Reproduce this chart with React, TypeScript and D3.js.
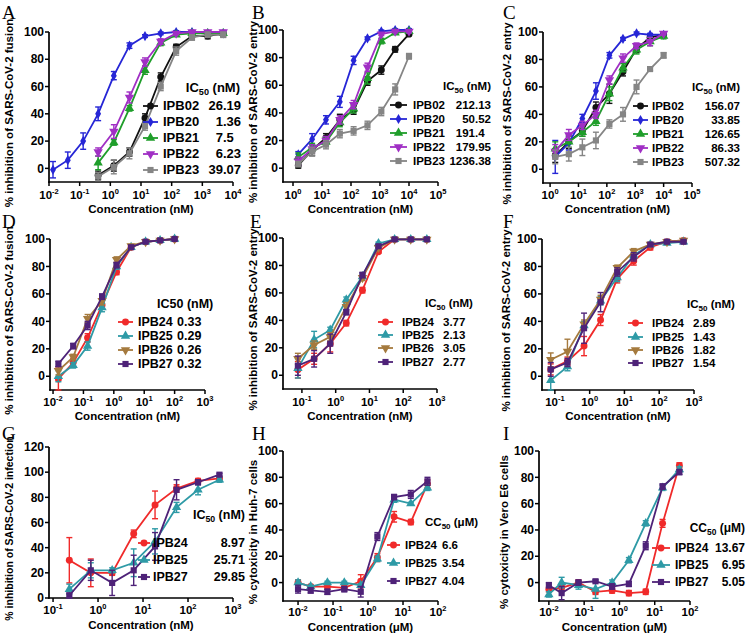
import React from 'react';
import * as d3 from 'd3';

// ---- concentrations (nM, or µM for H/I) ----
const concA = [0.4, 1.3, 4.2, 13.5, 44, 140, 460, 1500, 4800];
const concA20 = [0.0135, 0.041, 0.13, 0.4, 1.3, 4.2, 13.5, 44, 140, 460, 1500, 4800];
const concBC = [1.52, 4.57, 13.7, 41.2, 123, 370, 1111, 3333, 10000];
const concD = [0.015, 0.046, 0.137, 0.41, 1.23, 3.7, 11.1, 33.3, 100];
const concEF = [0.076, 0.23, 0.69, 2.06, 6.2, 18.5, 55.6, 167, 500];
const concG = [0.23, 0.69, 2.06, 6.2, 18.5, 55.6, 167, 500];
const concHI = [0.01, 0.023, 0.069, 0.21, 0.62, 1.85, 5.56, 16.7, 50];

// ---- A: fusion ----
const a02 = [-5, 2, 12, 37, 67, 89, 97, 97, 99];
const a02e = [3, 4, 3, 3, 3, 2, 2, 2, 2];
const a20 = [-1, 6, 20, 40, 68, 90, 97, 99, 100, 100, 99, 99];
const a20e = [6, 6, 6, 5, 3, 2, 1, 1, 1, 1, 1, 1];
const a21 = [4, 19, 44, 72, 92, 98, 99, 99, 99];
const a21e = [5, 2, 2, 3, 2, 1, 1, 1, 1];
const a22 = [12, 27, 52, 78, 93, 99, 100, 100, 100];
const a22e = [3, 5, 4, 3, 2, 1, 1, 1, 1];
const a23 = [-6, 1, 11, 31, 60, 86, 96, 98, 98];
const a23e = [3, 5, 4, 3, 3, 3, 2, 2, 2];

// ---- B: entry ----
const b02 = [2, 13, 22, 35, 42, 63, 71, 86, 97];
const b02e = [2, 4, 3, 4, 3, 3, 3, 2, 1];
const b20 = [10, 21, 35, 48, 78, 94, 99, 100, 100];
const b20e = [2, 4, 3, 4, 3, 1, 1, 1, 1];
const b21 = [8, 15, 19, 33, 43, 65, 92, 98, 99];
const b21e = [3, 3, 3, 3, 3, 4, 2, 1, 1];
const b22 = [5, 14, 20, 35, 46, 73, 97, 99, 99];
const b22e = [3, 3, 3, 3, 3, 3, 1, 1, 1];
const b23 = [3, 12, 17, 25, 27, 31, 41, 57, 81];
const b23e = [2, 3, 3, 3, 3, 3, 3, 4, 2];

// ---- C: entry ----
const c02 = [10, 20, 28, 45, 55, 71, 88, 96, 98];
const c02e = [5, 5, 4, 4, 7, 3, 3, 2, 1];
const c20 = [9, 19, 37, 57, 83, 95, 99, 98, 98];
const c20e = [12, 5, 3, 6, 2, 1, 1, 1, 1];
const c21 = [15, 20, 27, 35, 55, 74, 87, 93, 97];
const c21e = [5, 4, 3, 3, 5, 3, 3, 3, 2];
const c22 = [13, 25, 32, 40, 65, 81, 90, 93, 99];
const c22e = [5, 4, 3, 3, 3, 3, 2, 3, 1];
const c23 = [9, 11, 16, 21, 33, 40, 60, 73, 83];
const c23e = [5, 5, 6, 6, 3, 5, 5, 1, 2];

// ---- D: fusion ----
const d24 = [-2, 10, 28, 52, 76, 94, 98, 99, 100];
const d24e = [8, 3, 3, 3, 2, 1, 1, 1, 1];
const d25 = [0, 8, 22, 50, 80, 94, 98, 99, 100];
const d25e = [4, 2, 3, 3, 2, 1, 1, 1, 1];
const d26 = [4, 14, 42, 55, 85, 95, 98, 99, 100];
const d26e = [3, 2, 3, 3, 2, 1, 1, 1, 1];
const d27 = [9, 22, 37, 58, 81, 94, 98, 99, 100];
const d27e = [2, 2, 3, 2, 2, 1, 1, 1, 1];

// ---- E: entry ----
const e24 = [4, 12, 23, 38, 62, 90, 99, 99, 99];
const e24e = [6, 4, 6, 2, 2, 1, 1, 1, 1];
const e25 = [5, 26, 33, 55, 72, 96, 99, 99, 99];
const e25e = [7, 6, 2, 2, 2, 1, 1, 1, 1];
const e26 = [12, 22, 28, 50, 71, 93, 99, 99, 99];
const e26e = [4, 3, 3, 3, 2, 1, 1, 1, 1];
const e27 = [7, 12, 23, 46, 73, 94, 99, 99, 99];
const e27e = [7, 6, 7, 2, 2, 1, 1, 1, 1];

// ---- F: entry ----
const f24 = [5, 11, 22, 41, 71, 84, 94, 98, 99];
const f24e = [4, 3, 7, 4, 3, 3, 2, 1, 1];
const f25 = [-3, 7, 37, 55, 72, 88, 96, 97, 98];
const f25e = [7, 3, 3, 3, 3, 2, 1, 1, 1];
const f26 = [12, 18, 38, 56, 79, 91, 96, 98, 99];
const f26e = [5, 9, 3, 3, 2, 2, 1, 1, 1];
const f27 = [5, 10, 35, 54, 76, 87, 96, 98, 98];
const f27e = [5, 3, 11, 7, 3, 3, 1, 1, 1];

// ---- G: infection ----
const g24 = [30, 20, 20, 51, 74, 87, 93, 95];
const g24e = [18, 11, 2, 3, 11, 3, 2, 1];
const g25 = [7, 22, 22, 28, 45, 72, 86, 94];
const g25e = [4, 6, 2, 11, 10, 4, 4, 2];
const g27 = [2, 22, 12, 22, 41, 86, 92, 98];
const g27e = [2, 8, 10, 12, 11, 8, 2, 1];

// ---- H: cytotoxicity Huh-7 ----
const h24 = [0, -3, -3, -4, 1, 19, 50, 46, 75];
const h24e = [2, 1, 2, 2, 5, 3, 4, 2, 3];
const h25 = [0, -3, 0, 0, -2, 18, 63, 60, 72];
const h25e = [2, 1, 1, 1, 1, 2, 2, 1, 2];
const h27 = [-5, -6, -7, -5, -7, 35, 65, 67, 77];
const h27e = [3, 2, 2, 2, 4, 3, 2, 3, 3];

// ---- I: cytotoxicity Vero E6 ----
const i24 = [-5, -4, 0, -7, -6, -8, -7, 45, 89];
const i24e = [2, 2, 2, 2, 2, 2, 2, 3, 2];
const i25 = [-9, 0, -2, -5, 0, 17, 45, 72, 86];
const i25e = [2, 4, 3, 7, 2, 2, 2, 2, 2];
const i27 = [-2, -8, 0, 1, -3, -1, 28, 73, 84];
const i27e = [2, 5, 2, 1, 2, 2, 3, 2, 2];

// ---- legend values ----
const icA = ['26.19', '1.36', '7.5\u2007', '6.23', '39.07'];
const icB = ['212.13', '50.52', '191.4\u2007', '179.95', '1236.38'];
const icC = ['156.07', '33.85', '126.65', '86.33', '507.32'];
const icD = ['0.33', '0.29', '0.26', '0.32'];
const icE = ['3.77', '2.13', '3.05', '2.77'];
const icF = ['2.89', '1.43', '1.82', '1.54'];
const icG = ['8.97', '25.71', '29.85'];
const ccH = ['6.6', '3.54', '4.04'];
const ccI = ['13.67', '6.95', '5.05'];

const STYLE: Record<string, { color: string; shape: string }> = {
  IPB02: { color: '#111111', shape: 'circle' },
  IPB20: { color: '#2626d6', shape: 'diamond' },
  IPB21: { color: '#1f9e2a', shape: 'up' },
  IPB22: { color: '#a02fc4', shape: 'down' },
  IPB23: { color: '#858585', shape: 'square' },
  IPB24: { color: '#f02a2a', shape: 'circle' },
  IPB25: { color: '#2e9aa6', shape: 'up' },
  IPB26: { color: '#a57a3e', shape: 'down' },
  IPB27: { color: '#4e2278', shape: 'square' },
};

const FONT = 'Liberation Sans, Arial, sans-serif';

type Series = { name: string; conc: number[]; vals: number[]; errs: number[] };
type Legend = {
  title: 'sub' | 'plain' | 'cc';
  tx: number; ty: number; tAnchor: 'start' | 'end';
  rows: number[]; lx0: number; lx1: number; labX: number;
  valX: number; valAnchor: 'start' | 'end'; fs: number; values: string[];
};
type PanelCfg = {
  letter: string; letX: number; letY: number;
  yAxisX: number; xRange: [number, number]; xDomain: [number, number]; xExp: number[];
  yDomain: [number, number]; yRange: [number, number]; yTicks: number[];
  yTitle: string; yTitleX: number; yTitleFs: number;
  tickY: number; titleY: number; xTitle: string;
  series: Series[]; legend: Legend;
};

const Marker = ({ shape, x, y, color }: { shape: string; x: number; y: number; color: string }) => {
  const sym =
    shape === 'circle' ? d3.symbolCircle :
    shape === 'square' ? d3.symbolSquare :
    shape === 'diamond' ? d3.symbolDiamond : d3.symbolTriangle;
  const size = shape === 'diamond' ? 30 : 38;
  const d = d3.symbol().type(sym).size(size)() as string;
  const rot = shape === 'down' ? 180 : 0;
  return <path d={d} fill={color} transform={`translate(${x},${y}) rotate(${rot})`} />;
};

const Panel = ({ cfg }: { cfg: PanelCfg }) => {
  const x = d3.scaleLog().domain(cfg.xDomain).range(cfg.xRange);
  const y = d3.scaleLinear().domain(cfg.yDomain).range(cfg.yRange);
  const axisY = cfg.yRange[0];
  const line = d3.line<[number, number]>().x((d) => x(d[0])).y((d) => y(d[1]));
  const lg = cfg.legend;
  return (
    <g fontFamily={FONT}>
      <text x={cfg.letX} y={cfg.letY} fontFamily="Liberation Serif, Times New Roman, serif" fontSize={19}>
        {cfg.letter}
      </text>
      {/* y axis */}
      <line x1={cfg.yAxisX} x2={cfg.yAxisX} y1={cfg.yRange[1]} y2={axisY + 0.8} stroke="#000" strokeWidth={1.7} />
      {cfg.yTicks.map((t) => (
        <g key={t}>
          <line x1={cfg.yAxisX - 4} x2={cfg.yAxisX} y1={y(t)} y2={y(t)} stroke="#000" strokeWidth={1.5} />
          <text x={cfg.yAxisX - 5} y={y(t) + 4.2} textAnchor="end" fontSize={12} fontWeight="bold">{t}</text>
        </g>
      ))}
      <text
        transform={`translate(${cfg.yTitleX},${(cfg.yRange[0] + cfg.yRange[1]) / 2 + 6}) rotate(-90)`}
        textAnchor="middle" fontSize={cfg.yTitleFs} fontWeight="bold"
      >{cfg.yTitle}</text>
      {/* x axis */}
      <line x1={cfg.xRange[0] - 0.8} x2={cfg.xRange[1]} y1={axisY} y2={axisY} stroke="#000" strokeWidth={1.7} />
      {cfg.xExp.map((e) => (
        <g key={e}>
          <line x1={x(Math.pow(10, e))} x2={x(Math.pow(10, e))} y1={axisY} y2={axisY + 4} stroke="#000" strokeWidth={1.5} />
          <text x={x(Math.pow(10, e))} y={cfg.tickY} textAnchor="middle" fontWeight="bold" fontSize={11.5}>
            <tspan>10</tspan>
            <tspan dy={-5} fontSize={7.5}>{e < 0 ? `-${-e}` : `${e}`}</tspan>
          </text>
        </g>
      ))}
      <text x={(cfg.xRange[0] + cfg.xRange[1]) / 2} y={cfg.titleY} textAnchor="middle" fontWeight="bold" fontSize={11.5}>
        {cfg.xTitle}
      </text>
      {/* series */}
      {cfg.series.map((s) => {
        const st = STYLE[s.name];
        const pts = s.conc.map((c, i) => [c, s.vals[i]] as [number, number]);
        return (
          <g key={s.name}>
            {pts.map((p, i) => {
              const px = x(p[0]);
              const lo = y(p[1] - s.errs[i]);
              const hi = y(p[1] + s.errs[i]);
              return (
                <g key={i} stroke={st.color} strokeWidth={1.4}>
                  <line x1={px} x2={px} y1={lo} y2={hi} />
                  <line x1={px - 3} x2={px + 3} y1={lo} y2={lo} />
                  <line x1={px - 3} x2={px + 3} y1={hi} y2={hi} />
                </g>
              );
            })}
            <path d={line(pts) as string} fill="none" stroke={st.color} strokeWidth={1.8} />
            {pts.map((p, i) => (
              <Marker key={i} shape={st.shape} x={x(p[0])} y={y(p[1])} color={st.color} />
            ))}
          </g>
        );
      })}
      {/* legend */}
      <text x={lg.tx} y={lg.ty + 4} textAnchor={lg.tAnchor} fontWeight="bold" fontSize={lg.fs}>
        {lg.title === 'plain' ? (
          <tspan>IC50 (nM)</tspan>
        ) : (
          <>
            <tspan>{lg.title === 'cc' ? 'CC' : 'IC'}</tspan>
            <tspan dy={3} fontSize={lg.fs * 0.7}>50</tspan>
            <tspan dy={-3}>{lg.title === 'cc' ? ' (\u03bcM)' : ' (nM)'}</tspan>
          </>
        )}
      </text>
      {cfg.series.map((s, i) => {
        const st = STYLE[s.name];
        const ry = lg.rows[i];
        return (
          <g key={s.name}>
            <line x1={lg.lx0} x2={lg.lx1} y1={ry} y2={ry} stroke={st.color} strokeWidth={1.8} />
            <Marker shape={st.shape} x={(lg.lx0 + lg.lx1) / 2} y={ry} color={st.color} />
            <text x={lg.labX} y={ry + 4} fontWeight="bold" fontSize={lg.fs}>{s.name}</text>
            <text x={lg.valX} y={ry + 4} textAnchor={lg.valAnchor} fontWeight="bold" fontSize={lg.fs}>
              {lg.values[i]}
            </text>
          </g>
        );
      })}
    </g>
  );
};

const TICKS100 = [0, 20, 40, 60, 80, 100];
const NM = 'Concentration (nM)';
const UM = 'Concentration (\u03bcM)';

const panels: PanelCfg[] = [
  {
    letter: 'A', letX: 2, letY: 19, yAxisX: 49, xRange: [49, 233], xDomain: [1e-2, 1e4], xExp: [-2, -1, 0, 1, 2, 3, 4],
    yDomain: [-10, 100], yRange: [182, 32], yTicks: TICKS100,
    yTitle: '% inhibition of SARS-CoV-2 fusion', yTitleX: 13, yTitleFs: 11.5, tickY: 199, titleY: 213, xTitle: NM,
    series: [
      { name: 'IPB02', conc: concA, vals: a02, errs: a02e },
      { name: 'IPB20', conc: concA20, vals: a20, errs: a20e },
      { name: 'IPB21', conc: concA, vals: a21, errs: a21e },
      { name: 'IPB22', conc: concA, vals: a22, errs: a22e },
      { name: 'IPB23', conc: concA, vals: a23, errs: a23e },
    ],
    legend: { title: 'sub', tx: 240, ty: 88, tAnchor: 'end', rows: [106, 122, 138, 154, 170], lx0: 143, lx1: 158, labX: 163, valX: 241, valAnchor: 'end', fs: 13, values: icA },
  },
  {
    letter: 'B', letX: 252, letY: 19, yAxisX: 283, xRange: [283, 438], xDomain: [Math.pow(10, -0.345), 1e5], xExp: [0, 1, 2, 3, 4, 5],
    yDomain: [-10, 100], yRange: [182, 30], yTicks: TICKS100,
    yTitle: '% inhibition of SARS-CoV-2 entry', yTitleX: 257, yTitleFs: 11.5, tickY: 199, titleY: 213, xTitle: NM,
    series: [
      { name: 'IPB02', conc: concBC, vals: b02, errs: b02e },
      { name: 'IPB20', conc: concBC, vals: b20, errs: b20e },
      { name: 'IPB21', conc: concBC, vals: b21, errs: b21e },
      { name: 'IPB22', conc: concBC, vals: b22, errs: b22e },
      { name: 'IPB23', conc: concBC, vals: b23, errs: b23e },
    ],
    legend: { title: 'sub', tx: 491, ty: 86, tAnchor: 'end', rows: [105, 119, 133, 147, 161], lx0: 390, lx1: 407, labX: 413, valX: 491, valAnchor: 'end', fs: 11.5, values: icB },
  },
  {
    letter: 'C', letX: 503, letY: 19, yAxisX: 543, xRange: [543, 692], xDomain: [Math.pow(10, -0.25), 1e5], xExp: [0, 1, 2, 3, 4, 5],
    yDomain: [-10, 100], yRange: [183, 32], yTicks: TICKS100,
    yTitle: '% inhibition of SARS-CoV-2 entry', yTitleX: 511, yTitleFs: 11.5, tickY: 199, titleY: 213, xTitle: NM,
    series: [
      { name: 'IPB02', conc: concBC, vals: c02, errs: c02e },
      { name: 'IPB20', conc: concBC, vals: c20, errs: c20e },
      { name: 'IPB21', conc: concBC, vals: c21, errs: c21e },
      { name: 'IPB22', conc: concBC, vals: c22, errs: c22e },
      { name: 'IPB23', conc: concBC, vals: c23, errs: c23e },
    ],
    legend: { title: 'sub', tx: 740, ty: 87, tAnchor: 'end', rows: [106, 120, 134, 148, 162], lx0: 633, lx1: 648, labX: 652, valX: 740, valAnchor: 'end', fs: 11.5, values: icC },
  },
  {
    letter: 'D', letX: 2, letY: 228, yAxisX: 50, xRange: [50, 205], xDomain: [Math.pow(10, -2.1), 1e3], xExp: [-2, -1, 0, 1, 2, 3],
    yDomain: [-10, 100], yRange: [390, 239], yTicks: TICKS100,
    yTitle: '% inhibition of SARS-CoV-2 fusion', yTitleX: 13, yTitleFs: 11.5, tickY: 406, titleY: 420, xTitle: NM,
    series: [
      { name: 'IPB24', conc: concD, vals: d24, errs: d24e },
      { name: 'IPB25', conc: concD, vals: d25, errs: d25e },
      { name: 'IPB26', conc: concD, vals: d26, errs: d26e },
      { name: 'IPB27', conc: concD, vals: d27, errs: d27e },
    ],
    legend: { title: 'plain', tx: 157, ty: 304, tAnchor: 'start', rows: [322, 336, 350, 364], lx0: 118, lx1: 133, labX: 138, valX: 177, valAnchor: 'start', fs: 12.5, values: icD },
  },
  {
    letter: 'E', letX: 250, letY: 228, yAxisX: 283, xRange: [283, 437], xDomain: [Math.pow(10, -1.56), 1e3], xExp: [-1, 0, 1, 2, 3],
    yDomain: [-10, 100], yRange: [389, 238], yTicks: TICKS100,
    yTitle: '% inhibition of SARS-CoV-2 entry', yTitleX: 257, yTitleFs: 11.5, tickY: 406, titleY: 420, xTitle: NM,
    series: [
      { name: 'IPB24', conc: concEF, vals: e24, errs: e24e },
      { name: 'IPB25', conc: concEF, vals: e25, errs: e25e },
      { name: 'IPB26', conc: concEF, vals: e26, errs: e26e },
      { name: 'IPB27', conc: concEF, vals: e27, errs: e27e },
    ],
    legend: { title: 'sub', tx: 425, ty: 303, tAnchor: 'start', rows: [322, 335, 348, 362], lx0: 378, lx1: 393, labX: 402, valX: 443, valAnchor: 'start', fs: 11.5, values: icE },
  },
  {
    letter: 'F', letX: 503, letY: 228, yAxisX: 542, xRange: [542, 694], xDomain: [Math.pow(10, -1.37), 1e3], xExp: [-1, 0, 1, 2, 3],
    yDomain: [-10, 100], yRange: [390, 239], yTicks: TICKS100,
    yTitle: '% inhibition of SARS-CoV-2 entry', yTitleX: 510, yTitleFs: 11.5, tickY: 406, titleY: 420, xTitle: NM,
    series: [
      { name: 'IPB24', conc: concEF, vals: f24, errs: f24e },
      { name: 'IPB25', conc: concEF, vals: f25, errs: f25e },
      { name: 'IPB26', conc: concEF, vals: f26, errs: f26e },
      { name: 'IPB27', conc: concEF, vals: f27, errs: f27e },
    ],
    legend: { title: 'sub', tx: 687, ty: 304, tAnchor: 'start', rows: [323, 337, 350, 363], lx0: 628, lx1: 643, labX: 652, valX: 693, valAnchor: 'start', fs: 11.5, values: icF },
  },
  {
    letter: 'G', letX: 2, letY: 440, yAxisX: 49, xRange: [49, 233], xDomain: [Math.pow(10, -1.09), 1e3], xExp: [-1, 0, 1, 2, 3],
    yDomain: [0, 120], yRange: [598, 447], yTicks: [0, 20, 40, 60, 80, 100, 120],
    yTitle: '% inhibition of SARS-CoV-2 infection', yTitleX: 13, yTitleFs: 10.5, tickY: 614, titleY: 629, xTitle: NM,
    series: [
      { name: 'IPB24', conc: concG, vals: g24, errs: g24e },
      { name: 'IPB25', conc: concG, vals: g25, errs: g25e },
      { name: 'IPB27', conc: concG, vals: g27, errs: g27e },
    ],
    legend: { title: 'sub', tx: 245, ty: 515, tAnchor: 'end', rows: [543, 560, 577], lx0: 138, lx1: 150, labX: 153, valX: 245, valAnchor: 'end', fs: 12.5, values: icG },
  },
  {
    letter: 'H', letX: 252, letY: 440, yAxisX: 283, xRange: [283, 438], xDomain: [Math.pow(10, -2.43), 1e2], xExp: [-2, -1, 0, 1, 2],
    yDomain: [-14, 100], yRange: [601, 451], yTicks: TICKS100,
    yTitle: '% cytoxicity in Huh-7 cells', yTitleX: 257, yTitleFs: 11.5, tickY: 616, titleY: 631, xTitle: UM,
    series: [
      { name: 'IPB24', conc: concHI, vals: h24, errs: h24e },
      { name: 'IPB25', conc: concHI, vals: h25, errs: h25e },
      { name: 'IPB27', conc: concHI, vals: h27, errs: h27e },
    ],
    legend: { title: 'cc', tx: 425, ty: 522, tAnchor: 'start', rows: [545, 563, 581], lx0: 387, lx1: 400, labX: 405, valX: 442, valAnchor: 'start', fs: 11.5, values: ccH },
  },
  {
    letter: 'I', letX: 503, letY: 440, yAxisX: 539, xRange: [539, 690], xDomain: [Math.pow(10, -2.28), 1e2], xExp: [-2, -1, 0, 1, 2],
    yDomain: [-14, 100], yRange: [601, 451], yTicks: TICKS100,
    yTitle: '% cytoxicity in Vero E6 cells', yTitleX: 508, yTitleFs: 11.5, tickY: 616, titleY: 631, xTitle: UM,
    series: [
      { name: 'IPB24', conc: concHI, vals: i24, errs: i24e },
      { name: 'IPB25', conc: concHI, vals: i25, errs: i25e },
      { name: 'IPB27', conc: concHI, vals: i27, errs: i27e },
    ],
    legend: { title: 'cc', tx: 745, ty: 528, tAnchor: 'end', rows: [548, 565, 582], lx0: 652, lx1: 670, labX: 675, valX: 745, valAnchor: 'end', fs: 12, values: ccI },
  },
];

export default function App() {
  return (
    <svg width={750} height={640} style={{ position: 'absolute', left: 0, top: 0, background: '#fff' }}>
      <rect width={750} height={640} fill="#fff" />
      {panels.map((p) => (
        <Panel key={p.letter} cfg={p} />
      ))}
    </svg>
  );
}
